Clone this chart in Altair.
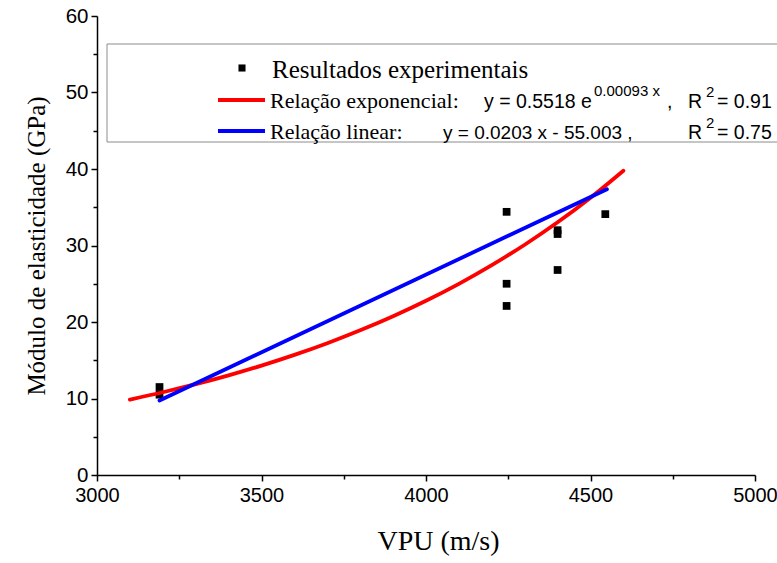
import altair as alt
import pandas as pd

# Experimental results (VPU m/s, modulus GPa)
vpu_exp = [3190, 3190, 4245, 4245, 4245, 4400, 4400, 4400, 4545]
e_exp = [11.5, 10.5, 34.4, 25.0, 22.1, 32.0, 31.5, 26.8, 34.1]

# Exponential fit curve
exp_x = [3100, 3200, 3300, 3400, 3500, 3600, 3700, 3800, 3900, 4000,
         4100, 4200, 4300, 4400, 4500, 4600]
exp_y = [9.86, 10.82, 11.87, 13.03, 14.30, 15.70, 17.23, 18.91, 20.75, 22.77,
         24.99, 27.43, 30.10, 33.03, 36.25, 39.78]

# Linear fit line (end points)
lin_x = [3190, 4550]
lin_y = [9.75, 37.36]

x_major = [3000, 3500, 4000, 4500, 5000]
x_minor = [3250, 3750, 4250, 4750]
y_major = [0, 10, 20, 30, 40, 50, 60]
y_minor = [5, 15, 25, 35, 45, 55]

SERIF = "Liberation Serif"
SANS = "Liberation Sans"

pts_df = pd.DataFrame({"vpu": vpu_exp, "e": e_exp})
exp_df = pd.DataFrame({"vpu": exp_x, "e": exp_y})
lin_df = pd.DataFrame({"vpu": lin_x, "e": lin_y})
one = pd.DataFrame({"a": [0]})

xscale = alt.Scale(domain=[3000, 5000], nice=False, zero=False)
yscale = alt.Scale(domain=[0, 60], nice=False, zero=True)

major_x = alt.Axis(values=x_major, title="VPU (m/s)", format="d", orient="bottom",
                   grid=False, domainColor="black", domainWidth=1.5,
                   tickColor="black", tickWidth=1.5, tickSize=6,
                   labelFont=SANS, labelFontSize=20, labelColor="black", labelPadding=4,
                   labelFlush=False, labelOverlap=False,
                   titleFont=SERIF, titleFontSize=28, titleFontWeight="normal",
                   titleColor="black", titlePadding=22, titleX=341)
major_y = alt.Axis(values=y_major, title="Módulo de elasticidade (GPa)", format="d",
                   orient="left", grid=False, domainColor="black", domainWidth=1.5,
                   tickColor="black", tickWidth=1.5, tickSize=6,
                   labelFont=SANS, labelFontSize=20.5, labelColor="black", labelPadding=3,
                   labelFlush=False, labelOverlap=False,
                   titleFont=SERIF, titleFontSize=25, titleFontWeight="normal",
                   titleColor="black", titlePadding=16)
minor_x = alt.Axis(values=x_minor, orient="bottom", labels=False, domain=False, grid=False,
                   tickSize=4, tickColor="black", tickWidth=1.5, title="")
minor_y = alt.Axis(values=y_minor, orient="left", labels=False, domain=False, grid=False,
                   tickSize=4, tickColor="black", tickWidth=1.5, title="")

points = alt.Chart(pts_df).mark_square(size=60, color="black", opacity=1).encode(
    x=alt.X("vpu:Q", scale=xscale, axis=major_x),
    y=alt.Y("e:Q", scale=yscale, axis=major_y),
)

red = alt.Chart(exp_df).mark_line(color="#ff0000", strokeWidth=3.8, strokeCap="round",
                                  interpolate="monotone").encode(
    x=alt.X("vpu:Q", scale=xscale, axis=minor_x),
    y=alt.Y("e:Q", scale=yscale, axis=minor_y),
)

blue = alt.Chart(lin_df).mark_line(color="#0000ff", strokeWidth=3.8, strokeCap="round").encode(
    x=alt.X("vpu:Q", scale=xscale, axis=None),
    y=alt.Y("e:Q", scale=yscale, axis=None),
)

# Legend box (drawn manually)
box = alt.Chart(one).mark_rect(fill="white", stroke="#8c8c8c", strokeWidth=1).encode(
    x=alt.value(10), x2=alt.value(730), y=alt.value(28), y2=alt.value(126)
)
leg_sq = alt.Chart(one).mark_square(size=50, color="black", opacity=1).encode(
    x=alt.value(145), y=alt.value(52)
)
leg_red = alt.Chart(one).mark_rule(color="#ff0000", strokeWidth=3.8).encode(
    x=alt.value(121), x2=alt.value(168), y=alt.value(84)
)
leg_blue = alt.Chart(one).mark_rule(color="#0000ff", strokeWidth=3.8).encode(
    x=alt.value(121), x2=alt.value(168), y=alt.value(115)
)


def txt(s, x, y, font, size):
    return alt.Chart(one).mark_text(text=s, font=font, fontSize=size, color="black",
                                    align="left", baseline="middle").encode(
        x=alt.value(x), y=alt.value(y)
    )


texts = [
    txt("Resultados experimentais", 175, 54, SERIF, 25),
    txt("Relação exponencial:", 173, 85, SERIF, 22),
    txt("y = 0.5518 e", 387, 86, SANS, 19.5),
    txt("0.00093 x", 497, 75, SANS, 15),
    txt(",", 570, 86, SANS, 19.5),
    txt("R", 591, 86, SANS, 19.5),
    txt("2", 609, 76, SANS, 15),
    txt("= 0.91", 620, 86, SANS, 19.5),
    txt("Relação linear:", 173, 116, SERIF, 22),
    txt("y = 0.0203 x - 55.003 ,", 346, 117, SANS, 19),
    txt("R", 591, 117, SANS, 19.5),
    txt("2", 609, 107, SANS, 15),
    txt("= 0.75", 620, 117, SANS, 19.5),
]

chart = alt.layer(points, red, blue, box, leg_sq, leg_red, leg_blue, *texts).resolve_axis(
    x="independent", y="independent"
).properties(
    width=658, height=459,
    autosize=alt.AutoSizeParams(type="none"),
    padding={"left": 97, "top": 16, "right": 22, "bottom": 88},
    background="white",
).configure_view(stroke=None)

chart.save("out.html", embed_options={"renderer": "svg", "actions": False})
